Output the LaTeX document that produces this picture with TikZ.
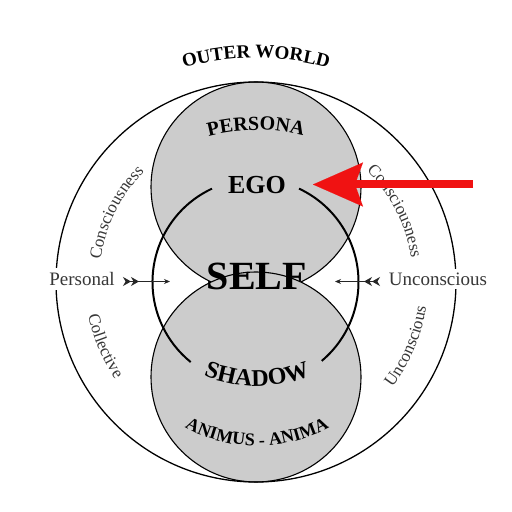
\documentclass[tikz,border=0pt]{standalone}
\usepackage{fontspec}
\setmainfont{Liberation Serif}
\usetikzlibrary{arrows.meta,decorations.text}
\newcommand\fcapsB{\bfseries\fontsize{19}{19}\selectfont}
\newcommand\fcapsP{\bfseries\fontsize{20}{20}\selectfont}
\newcommand\fcapsS{\bfseries\fontsize{24}{24}\selectfont}
\newcommand\fcapsA{\bfseries\fontsize{18}{18}\selectfont}
\newcommand\fside{\fontsize{17}{17}\selectfont}
\definecolor{arrowred}{RGB}{240,18,18}
\definecolor{sidegray}{RGB}{55,55,55}
\begin{document}
\begin{tikzpicture}[x=1pt,y=1pt,
  graycirc/.style={fill=black!20, draw=black, line width=1.1pt},
  outercirc/.style={draw=black, line width=1.3pt},
  selfarc/.style={draw=black, line width=2pt},
  sidelabel/.style={font=\fontsize{19}{19}\selectfont, text=sidegray, fill=white, inner xsep=1pt, inner ysep=4pt},
  smallarrow/.style={line width=0.8pt, black!85,
    {Stealth[reversed,length=8pt,width=9pt] Stealth[reversed,length=8pt,width=9pt]}-{Stealth[length=6pt,width=5pt]}},
  curved/.style={decorate, decoration={text along path, text align=center, #1}}
]
\useasboundingbox (0,0) rectangle (512,512);
\fill[white] (0,0) rectangle (512,512);

% gray circles
\path[graycirc] (256,325) circle[radius=105];
\path[graycirc] (256,135) circle[radius=105];
% outer circle
\path[outercirc] (256,230) circle[radius=200];
% self circle with gaps
\path[selfarc] (255.5,230) ++(115:103) arc[start angle=115, end angle=231, radius=103];
\path[selfarc] (255.5,230) ++(-50:103) arc[start angle=-50, end angle=65, radius=103];

% curved caps texts
\path[curved={text={|\fcapsB|OUTER WORLD}}] (256,188) ++(120:266) arc[start angle=120, end angle=60, radius=266];
\path[curved={text={|\fcapsP|PERSONA}}] (256,197) ++(120:185) arc[start angle=120, end angle=60, radius=185];
\path[curved={text={|\fcapsS|SHADOW}}] (257,266) ++(230:140) arc[start angle=230, end angle=310, radius=140];
\path[curved={text={|\fcapsA|ANIMUS - ANIMA}}] (257,214) ++(230:148) arc[start angle=230, end angle=310, radius=148];

% side curved texts
\path[curved={text color=sidegray, text={|\fside|Consciousness}}] (256,230) ++(185:157) arc[start angle=185, end angle=122, radius=157];
\path[curved={text color=sidegray, text={|\fside|Collective}}] (256,230) ++(178:171) arc[start angle=178, end angle=228, radius=171];
\path[curved={text color=sidegray, text={|\fside|Consciousness}}] (256,230) ++(59:157) arc[start angle=59, end angle=-5, radius=157];
\path[curved={text color=sidegray, text={|\fside|Unconscious}}] (256,230) ++(-48:172) arc[start angle=-48, end angle=2, radius=172];

% central labels
\node[font=\bfseries\fontsize{26}{26}\selectfont, inner sep=0pt] (ego) at (257,327) {EGO};
\node[font=\bfseries\fontsize{40}{40}\selectfont, inner sep=0pt] (self) at (257,235.5) {SELF};

% side labels
\node[sidelabel] (personal) at (82,233) {Personal};
\node[sidelabel] (uncon) at (438,233) {Unconscious};

% small arrows
\coordinate (pl) at (123,230.5);
\coordinate (pr) at (170,230.5);
\coordinate (ul) at (380,230.5);
\coordinate (ur) at (335,230.5);
\draw[smallarrow] (pl) -- (pr);
\draw[smallarrow] (ul) -- (ur);

% red arrow
\coordinate (rs) at (473,327.5);
\coordinate (rt) at (313,327.5);
\draw[arrowred, line width=8pt, -{Stealth[length=50pt,width=44pt,inset=8pt,line width=0.1pt]}] (rs) -- (rt);
\end{tikzpicture}
\end{document}
